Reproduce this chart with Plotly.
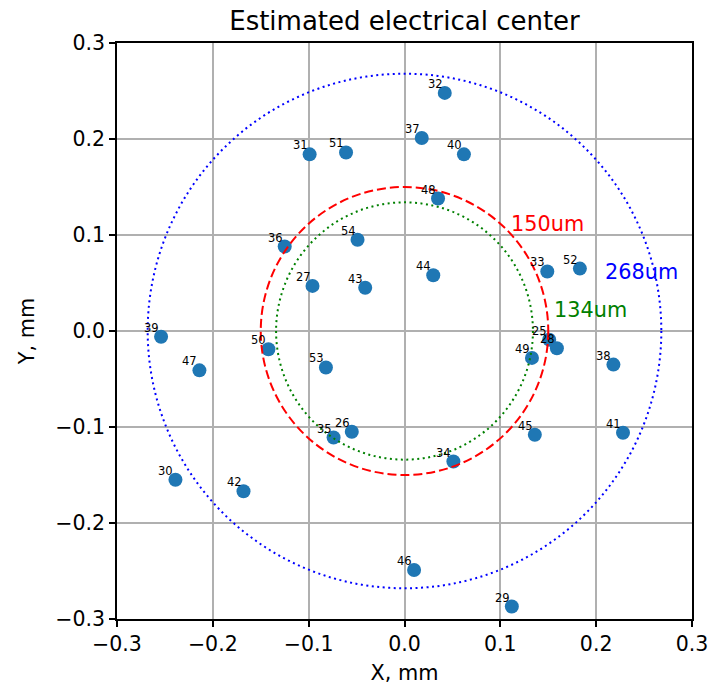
import plotly.graph_objects as go

# ---- data ----
ids = [31, 51, 36, 54, 27, 43, 32, 37, 40, 48, 44, 33, 52,
       39, 50, 47, 53, 26, 35, 30, 42, 46,
       25, 28, 49, 38, 45, 41, 34, 29]
x_mm = [-0.099, -0.061, -0.125, -0.049, -0.096, -0.041, 0.042, 0.018, 0.062, 0.035, 0.030, 0.149, 0.183,
        -0.254, -0.142, -0.214, -0.082, -0.055, -0.074, -0.239, -0.168, 0.010,
        0.151, 0.159, 0.133, 0.218, 0.136, 0.228, 0.051, 0.112]
y_mm = [0.184, 0.186, 0.088, 0.095, 0.047, 0.045, 0.248, 0.201, 0.184, 0.138, 0.058, 0.062, 0.065,
        -0.006, -0.019, -0.041, -0.038, -0.105, -0.111, -0.155, -0.167, -0.249,
        -0.009, -0.018, -0.028, -0.035, -0.108, -0.106, -0.136, -0.287]

circle_radius = [0.150, 0.134, 0.268]
circle_label = ["150um", "134um", "268um"]
circle_color = ["red", "green", "blue"]
circle_dash = ["9px,4px", "2px,3.5px", "2px,3.5px"]
circle_label_pos = [(0.110, 0.1115), (0.155, 0.022), (0.208, 0.0615)]

ticks = [-0.3, -0.2, -0.1, 0.0, 0.1, 0.2, 0.3]

FONT = "DejaVu Sans"

fig = go.Figure()
fig.add_trace(go.Scatter(
    x=x_mm, y=y_mm, mode="markers",
    marker=dict(color="#1f77b4", size=14, line=dict(width=0)),
    hoverinfo="skip", showlegend=False,
))

shapes = []
for r, c, d in zip(circle_radius, circle_color, circle_dash):
    shapes.append(dict(type="circle", xref="x", yref="y",
                       x0=-r, y0=-r, x1=r, y1=r,
                       line=dict(color=c, width=2, dash=d), layer="above"))

annotations = []
for i, xv, yv in zip(ids, x_mm, y_mm):
    annotations.append(dict(x=xv, y=yv, xref="x", yref="y", text=str(i),
                            showarrow=False, xanchor="right", yanchor="bottom",
                            font=dict(family=FONT, size=11.5, color="black"),
                            borderpad=0, xshift=-1, yshift=1))
for lab, c, (lx, ly) in zip(circle_label, circle_color, circle_label_pos):
    annotations.append(dict(x=lx, y=ly, xref="x", yref="y", text=lab,
                            showarrow=False, xanchor="left", yanchor="middle",
                            font=dict(family=FONT, size=20.8, color=c),
                            borderpad=0))

axis_common = dict(
    range=[-0.3, 0.3], tickvals=ticks, tickformat=".1f",
    showline=True, mirror=True, linecolor="black", linewidth=1.7,
    ticks="outside", ticklen=6, tickwidth=1.7, tickcolor="black",
    showgrid=True, gridcolor="#b0b0b0", gridwidth=1.7, zeroline=False,
    tickfont=dict(family=FONT, size=20.5, color="black"),
    automargin=False,
)

fig.update_layout(
    width=718, height=685,
    margin=dict(l=117, r=26, t=43, b=66, autoexpand=False),
    plot_bgcolor="white", paper_bgcolor="white",
    title=dict(text="Estimated electrical center", x=0.5, xref="paper",
               y=1 - 21 / 685, yref="container", yanchor="middle", xanchor="center",
               font=dict(family=FONT, size=26, color="black")),
    xaxis=dict(**axis_common, title=dict(text="X, mm", standoff=12,
               font=dict(family=FONT, size=20.8, color="black"))),
    yaxis=dict(**axis_common, title=dict(text="Y, mm", standoff=15,
               font=dict(family=FONT, size=20.8, color="black"))),
    shapes=shapes, annotations=annotations,
)

fig.write_html("out.html")
